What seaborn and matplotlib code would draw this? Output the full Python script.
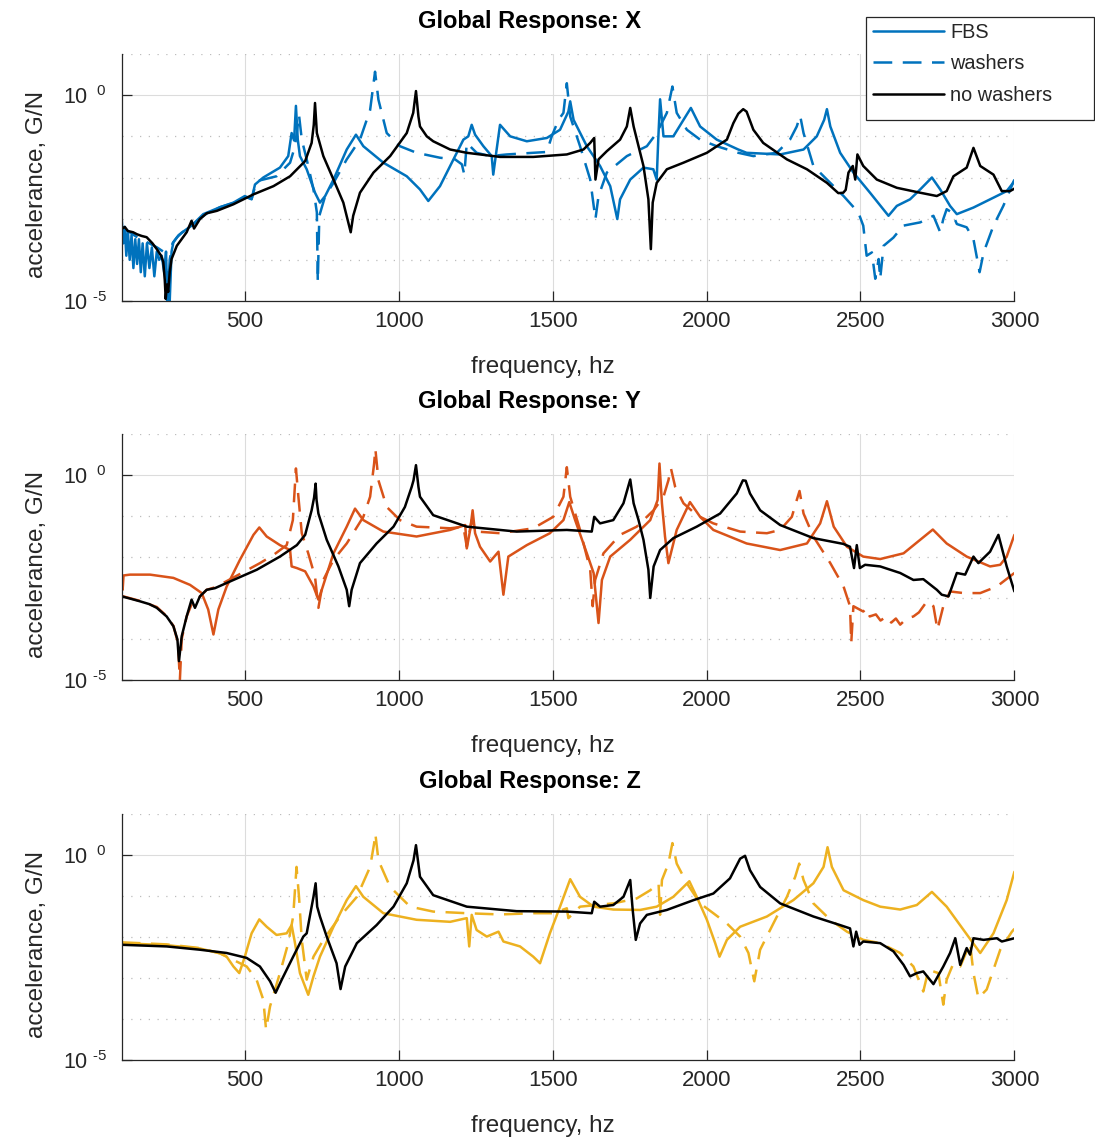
"""
Global response FRFs (X / Y / Z) -- FBS prediction vs. measured with and
without washers. Values are log10(G/N), read off the original figure.
"""

import numpy as np
import pandas as pd
import matplotlib
matplotlib.use("Agg")
import matplotlib.pyplot as plt
import seaborn as sns
from matplotlib.lines import Line2D
from matplotlib.patches import Rectangle
from matplotlib.ticker import FixedLocator, NullFormatter

sns.set_style("white")
plt.rcParams["font.family"] = ["Liberation Sans", "DejaVu Sans"]
plt.rcParams["mathtext.fontset"] = "custom"
plt.rcParams["mathtext.rm"] = "Liberation Sans"

BLUE, ORANGE, YELLOW = "#0072BD", "#D95319", "#EDB120"
INK = "#262626"

# --------------------------------------------------------------------------
# data: (frequency hz, log10 accelerance)
# --------------------------------------------------------------------------
X_FBS = [(100, -3.0), (105, -3.6), (110, -3.2), (115, -3.9), (120, -3.3), (126, -4.0), (132, -3.4),
         (138, -4.2), (144, -3.5), (150, -4.1), (156, -3.5), (162, -4.3), (168, -3.6), (175, -4.4),
         (182, -3.6), (190, -4.2), (198, -3.7), (206, -4.4), (214, -3.8), (222, -4.0), (230, -3.9),
         (238, -4.3), (244, -3.8), (248, -5.0), (252, -4.3), (256, -5.0), (262, -3.8), (268, -3.57),
         (280, -3.45), (295, -3.34), (327, -3.17), (365, -2.89), (420, -2.72), (463, -2.61), (500, -2.45),
         (522, -2.53), (533, -2.17), (560, -2.0), (614, -1.76), (641, -1.48), (652, -0.92), (660, -1.1),
         (666, -0.26), (672, -1.08), (679, -1.48), (701, -1.80), (728, -2.37), (744, -2.61), (761, -2.45),
         (788, -2.05), (831, -1.32), (861, -0.96), (885, -1.24), (950, -1.64), (1026, -1.97), (1069, -2.29),
         (1096, -2.57), (1134, -2.21), (1167, -1.72), (1210, -1.08), (1226, -1.0), (1237, -0.72),
         (1248, -0.96), (1275, -1.24), (1302, -1.48), (1307, -1.93), (1318, -1.32), (1329, -0.72),
         (1362, -1.0), (1416, -1.12), (1481, -1.04), (1524, -0.84), (1551, -0.40), (1557, -0.15),
         (1568, -0.60), (1611, -1.24), (1654, -1.72), (1687, -2.21), (1710, -3.01), (1719, -2.53),
         (1752, -2.05), (1795, -1.76), (1827, -1.80), (1838, -2.05), (1843, -1.08), (1849, -0.10),
         (1860, -1.0), (1892, -1.0), (1925, -0.60), (1949, -0.31), (1979, -0.76), (2033, -1.08),
         (2103, -1.32), (2130, -1.40), (2239, -1.44), (2315, -1.32), (2358, -1.0), (2382, -0.60),
         (2391, -0.34), (2402, -0.76), (2434, -1.40), (2477, -1.88), (2531, -2.37), (2591, -2.93),
         (2618, -2.69), (2661, -2.53), (2694, -2.29), (2732, -2.0), (2759, -2.29), (2791, -2.69),
         (2813, -2.89), (2867, -2.73), (2932, -2.49), (2975, -2.33), (3000, -2.09)]

X_WASHERS = [(100, -3.2), (130, -3.35), (160, -3.5), (190, -3.6), (215, -3.7), (235, -3.8), (245, -4.3),
             (250, -4.9), (256, -4.0), (265, -3.6), (285, -3.4), (330, -3.15), (370, -2.9), (420, -2.72),
             (463, -2.62), (500, -2.47), (522, -2.52), (538, -2.09), (603, -1.97), (647, -1.64),
             (663, -1.24), (676, -0.48), (685, -1.08), (701, -1.56), (723, -2.29), (734, -2.85),
             (737, -4.54), (742, -2.93), (761, -2.45), (788, -2.13), (831, -1.56), (874, -1.08),
             (907, -0.36), (923, 0.57), (934, -0.11), (961, -0.92), (1004, -1.24), (1058, -1.40),
             (1134, -1.52), (1183, -1.56), (1205, -1.68), (1213, -1.93), (1221, -1.16), (1253, -1.40),
             (1297, -1.48), (1351, -1.44), (1437, -1.40), (1481, -1.38), (1497, -1.0), (1519, -0.60),
             (1535, -0.43), (1546, 0.29), (1557, -0.52), (1589, -1.24), (1622, -2.05), (1639, -3.01),
             (1649, -2.45), (1676, -1.88), (1741, -1.48), (1806, -1.24), (1838, -0.92), (1871, -0.43),
             (1889, 0.21), (1903, -0.43), (1936, -0.84), (1979, -1.08), (2033, -1.24), (2103, -1.40),
             (2152, -1.48), (2228, -1.40), (2271, -1.08), (2293, -0.76), (2304, -0.50), (2315, -0.92),
             (2347, -1.72), (2391, -2.05), (2445, -2.45), (2493, -2.85), (2509, -3.17), (2520, -3.90),
             (2537, -3.82), (2548, -4.46), (2559, -3.98), (2564, -4.46), (2575, -3.66), (2607, -3.46),
             (2639, -3.17), (2694, -3.09), (2737, -2.93), (2759, -3.33), (2769, -3.01), (2780, -2.77),
             (2797, -2.85), (2813, -3.13), (2845, -3.21), (2867, -3.50), (2887, -4.30), (2900, -3.82),
             (2932, -3.17), (2964, -2.69), (3000, -2.05)]

X_NO_WASHERS = [(100, -3.25), (110, -3.2), (120, -3.3), (137, -3.33), (150, -3.38), (165, -3.42),
                (181, -3.45), (200, -3.6), (214, -3.74), (228, -3.9), (235, -4.05), (240, -4.5),
                (243, -4.95), (247, -4.6), (251, -4.78), (256, -4.3), (262, -3.98), (279, -3.66),
                (311, -3.33), (327, -3.05), (335, -3.24), (354, -3.01), (376, -2.87), (409, -2.81),
                (463, -2.65), (528, -2.41), (593, -2.21), (647, -1.97), (696, -1.60), (717, -1.16),
                (724, -0.72), (728, -0.19), (734, -0.92), (755, -1.48), (788, -2.05), (820, -2.61),
                (844, -3.33), (852, -2.93), (874, -2.37), (918, -1.88), (972, -1.48), (1026, -0.92),
                (1047, -0.43), (1056, 0.10), (1064, -0.52), (1069, -0.76), (1091, -1.0), (1112, -1.12),
                (1167, -1.32), (1221, -1.40), (1329, -1.50), (1437, -1.50), (1546, -1.44), (1600, -1.32),
                (1622, -1.16), (1635, -1.04), (1639, -2.05), (1649, -1.56), (1676, -1.36), (1719, -1.08),
                (1741, -0.76), (1752, -0.31), (1763, -0.76), (1779, -1.24), (1795, -1.72), (1811, -2.53),
                (1819, -3.74), (1825, -2.61), (1838, -2.13), (1871, -1.80), (1925, -1.64), (2001, -1.40),
                (2066, -1.08), (2087, -0.68), (2103, -0.45), (2119, -0.34), (2130, -0.40), (2152, -0.84),
                (2184, -1.16), (2261, -1.56), (2326, -1.80), (2391, -2.13), (2428, -2.38), (2444, -2.37),
                (2452, -2.30), (2461, -1.88), (2475, -1.72), (2483, -2.05), (2490, -1.44), (2509, -1.72),
                (2553, -2.05), (2618, -2.25), (2694, -2.37), (2748, -2.45), (2780, -2.33), (2802, -1.97),
                (2845, -1.76), (2867, -1.28), (2889, -1.72), (2932, -1.93), (2959, -2.33), (2986, -2.33),
                (3000, -2.27)]

Y_FBS = [(100, -2.43), (103, -2.8), (106, -2.45), (127, -2.43), (192, -2.43), (268, -2.51), (322, -2.68),
         (360, -2.88), (381, -3.28), (398, -3.89), (414, -3.28), (441, -2.72), (484, -2.07), (528, -1.46),
         (547, -1.28), (571, -1.50), (614, -1.71), (647, -1.83), (652, -2.23), (669, -2.27), (696, -2.35),
         (723, -2.72), (739, -3.04), (750, -2.80), (788, -1.91), (831, -1.26), (858, -0.82), (885, -1.10),
         (950, -1.38), (1058, -1.50), (1167, -1.34), (1216, -1.22), (1221, -1.79), (1232, -1.34),
         (1240, -0.86), (1248, -1.42), (1264, -1.75), (1297, -2.11), (1324, -1.87), (1340, -2.92),
         (1356, -1.99), (1416, -1.71), (1491, -1.42), (1535, -1.10), (1554, -0.66), (1573, -1.10),
         (1611, -1.91), (1633, -2.39), (1649, -3.61), (1660, -2.56), (1687, -1.99), (1752, -1.58),
         (1817, -1.10), (1841, -0.61), (1847, 0.28), (1855, -0.69), (1865, -1.50), (1876, -2.15),
         (1903, -1.34), (1946, -0.66), (1979, -1.02), (2022, -1.34), (2130, -1.67), (2239, -1.83),
         (2326, -1.67), (2369, -1.18), (2391, -0.64), (2413, -1.26), (2456, -1.75), (2509, -1.99),
         (2564, -2.05), (2640, -1.91), (2694, -1.58), (2735, -1.33), (2780, -1.67), (2845, -1.99),
         (2921, -2.23), (2954, -2.19), (2975, -1.99), (3000, -1.46)]

Y_WASHERS = [(100, -2.95), (159, -3.07), (214, -3.22), (246, -3.44), (268, -3.68), (283, -4.1), (289, -5.0),
             (295, -4.0), (311, -3.45), (330, -3.1), (354, -2.97), (376, -2.80), (403, -2.74), (463, -2.50),
             (549, -2.15), (593, -1.95), (636, -1.71), (656, -1.10), (666, 0.16), (674, -0.53), (685, -1.42),
             (706, -1.91), (728, -2.48), (739, -3.24), (755, -2.56), (788, -2.07), (831, -1.67), (885, -1.02),
             (907, -0.53), (920, 0.28), (924, 0.64), (934, -0.13), (961, -0.78), (1004, -1.10),
             (1058, -1.26), (1167, -1.30), (1210, -1.26), (1221, -1.75), (1237, -1.10), (1253, -1.38),
             (1329, -1.42), (1437, -1.30), (1502, -1.02), (1535, -0.53), (1546, 0.19), (1557, -0.53),
             (1589, -1.34), (1622, -2.31), (1630, -3.20), (1638, -2.56), (1665, -1.91), (1719, -1.46),
             (1773, -1.26), (1828, -0.86), (1860, -0.53), (1876, -0.13), (1884, 0.17), (1898, -0.29),
             (1925, -0.69), (1968, -0.98), (2022, -1.18), (2109, -1.38), (2196, -1.42), (2239, -1.34),
             (2277, -1.02), (2293, -0.61), (2302, -0.39), (2315, -0.94), (2347, -1.50), (2402, -2.15),
             (2445, -2.72), (2466, -3.20), (2470, -4.09), (2477, -3.20), (2509, -3.33), (2520, -3.25),
             (2530, -3.45), (2550, -3.40), (2565, -3.55), (2585, -3.45), (2600, -3.60), (2615, -3.50),
             (2629, -3.65), (2650, -3.50), (2672, -3.45), (2690, -3.35), (2716, -3.08), (2737, -3.20),
             (2750, -3.77), (2769, -3.20), (2791, -2.84), (2835, -2.88), (2889, -2.88), (2943, -2.72),
             (3000, -2.39)]

Y_NO_WASHERS = [(100, -2.96), (130, -3.02), (159, -3.08), (190, -3.15), (214, -3.24), (246, -3.45),
                (268, -3.69), (281, -4.01), (286, -4.54), (295, -3.93), (311, -3.45), (327, -3.04),
                (338, -3.24), (354, -2.96), (376, -2.80), (403, -2.76), (463, -2.56), (539, -2.31),
                (614, -1.99), (669, -1.71), (696, -1.46), (717, -0.86), (725, -0.55), (730, -0.21),
                (733, -0.61), (739, -0.94), (766, -1.58), (804, -2.23), (831, -2.80), (839, -3.20),
                (847, -2.80), (874, -2.15), (928, -1.67), (983, -1.26), (1020, -0.78), (1042, -0.29),
                (1048, -0.13), (1056, 0.24), (1064, -0.29), (1069, -0.53), (1112, -0.98), (1221, -1.26),
                (1383, -1.38), (1546, -1.34), (1627, -1.38), (1635, -1.02), (1654, -1.18), (1697, -1.10),
                (1730, -0.69), (1752, -0.11), (1763, -0.69), (1779, -1.10), (1795, -1.58), (1811, -2.31),
                (1817, -3.0), (1828, -2.23), (1849, -1.83), (1892, -1.54), (1968, -1.26), (2044, -0.94),
                (2098, -0.45), (2118, -0.13), (2127, -0.14), (2141, -0.45), (2174, -0.86), (2239, -1.22),
                (2347, -1.54), (2444, -1.68), (2466, -1.75), (2479, -2.27), (2488, -1.71), (2498, -2.27),
                (2515, -2.19), (2564, -2.23), (2629, -2.39), (2672, -2.56), (2704, -2.54), (2748, -2.80),
                (2764, -2.92), (2786, -2.96), (2813, -2.39), (2840, -2.43), (2867, -1.99), (2883, -2.15),
                (2921, -1.87), (2948, -1.46), (2975, -2.23), (3000, -2.84)]

Z_FBS = [(100, -2.15), (246, -2.20), (354, -2.28), (420, -2.40), (441, -2.48), (463, -2.72), (482, -2.88),
         (500, -2.48), (522, -1.91), (547, -1.57), (571, -1.75), (603, -1.95), (636, -1.91), (652, -1.71),
         (663, -2.15), (679, -2.88), (706, -3.41), (723, -2.96), (744, -2.48), (788, -1.75), (831, -1.10),
         (861, -0.76), (885, -1.02), (950, -1.42), (1058, -1.58), (1167, -1.63), (1221, -1.54),
         (1229, -2.23), (1237, -1.46), (1253, -1.83), (1286, -1.99), (1324, -1.87), (1340, -2.11),
         (1394, -2.23), (1437, -2.48), (1459, -2.64), (1491, -1.91), (1524, -1.26), (1557, -0.59),
         (1589, -1.02), (1633, -1.26), (1697, -1.33), (1784, -1.34), (1838, -1.26), (1892, -1.02),
         (1944, -0.64), (1968, -1.02), (2001, -1.58), (2028, -2.15), (2042, -2.48), (2066, -2.07),
         (2109, -1.75), (2196, -1.50), (2282, -1.10), (2347, -0.69), (2380, -0.29), (2393, 0.19),
         (2407, -0.29), (2445, -0.86), (2509, -1.10), (2564, -1.26), (2629, -1.33), (2683, -1.22),
         (2732, -0.90), (2780, -1.26), (2835, -1.83), (2889, -2.39), (2932, -1.91), (2975, -1.10),
         (3000, -0.41)]

Z_WASHERS = [(100, -2.13), (246, -2.18), (354, -2.27), (420, -2.40), (463, -2.56), (506, -2.72), (538, -3.04),
             (560, -3.53), (569, -4.26), (582, -3.69), (614, -2.88), (641, -2.15), (657, -1.50), (668, -0.29),
             (676, -1.02), (685, -2.07), (701, -3.04), (723, -2.48), (755, -2.07), (809, -1.50), (864, -1.02),
             (907, -0.29), (920, 0.28), (924, 0.52), (934, -0.13), (972, -0.78), (1037, -1.26), (1112, -1.38),
             (1221, -1.42), (1329, -1.45), (1437, -1.42), (1502, -1.42), (1546, -1.30), (1551, -1.54),
             (1589, -1.26), (1697, -1.18), (1773, -1.06), (1817, -0.86), (1844, -0.69), (1849, -1.46),
             (1855, -0.61), (1876, -0.21), (1889, 0.29), (1903, -0.21), (1936, -0.69), (1979, -1.18),
             (2022, -1.42), (2066, -1.67), (2109, -1.99), (2136, -2.39), (2155, -3.08), (2174, -2.31),
             (2217, -1.67), (2261, -1.02), (2288, -0.53), (2301, -0.21), (2315, -0.61), (2347, -1.18),
             (2402, -1.58), (2456, -1.87), (2509, -2.07), (2564, -2.15), (2629, -2.39), (2672, -2.72),
             (2704, -3.33), (2721, -2.80), (2753, -2.88), (2769, -3.65), (2780, -3.04), (2802, -2.64),
             (2824, -2.72), (2856, -2.15), (2867, -2.88), (2883, -3.49), (2910, -3.28), (2954, -2.31),
             (2992, -1.87), (3000, -1.80)]

Z_NO_WASHERS = [(100, -2.19), (246, -2.23), (354, -2.31), (441, -2.39), (506, -2.51), (549, -2.72),
                (582, -3.08), (600, -3.36), (620, -3.04), (657, -2.48), (690, -1.99), (701, -1.91),
                (717, -1.26), (723, -1.02), (730, -0.69), (735, -1.26), (744, -1.50), (766, -1.99),
                (798, -2.64), (811, -3.27), (826, -2.72), (864, -2.15), (928, -1.71), (983, -1.26),
                (1026, -0.69), (1048, -0.13), (1056, 0.24), (1069, -0.53), (1112, -0.98), (1221, -1.26),
                (1383, -1.37), (1546, -1.38), (1627, -1.42), (1635, -1.14), (1654, -1.26), (1697, -1.22),
                (1730, -1.02), (1752, -0.61), (1760, -1.34), (1770, -2.07), (1784, -1.67), (1806, -1.46),
                (1871, -1.34), (1958, -1.10), (2022, -0.94), (2076, -0.57), (2109, -0.09), (2125, -0.02),
                (2141, -0.37), (2174, -0.78), (2239, -1.18), (2347, -1.50), (2434, -1.71), (2466, -1.79),
                (2477, -2.23), (2486, -1.87), (2497, -2.19), (2509, -2.11), (2564, -2.15), (2607, -2.35),
                (2640, -2.68), (2661, -2.96), (2683, -2.88), (2704, -2.84), (2737, -3.15), (2769, -2.72),
                (2791, -2.39), (2808, -2.03), (2824, -2.68), (2845, -2.27), (2856, -2.43), (2867, -2.03),
                (2900, -2.07), (2943, -2.03), (2959, -2.11), (3000, -2.03)]

AXES = ["X", "Y", "Z"]
COLORS = [BLUE, ORANGE, YELLOW]
FBS = [X_FBS, Y_FBS, Z_FBS]
WASHERS = [X_WASHERS, Y_WASHERS, Z_WASHERS]
NO_WASHERS = [X_NO_WASHERS, Y_NO_WASHERS, Z_NO_WASHERS]
LEGEND_LABELS = ["FBS", "washers", "no washers"]
FREQ_TICKS = [500, 1000, 1500, 2000, 2500, 3000]
DECADE_LABELS = [r"$\mathregular{10^{\ \text{-}5}}$", r"$\mathregular{10^{\ \ 0}}$"]

W, H = 1095, 1139
LW = 1.8
DASH = (7.5, 4.2)


def draw_curve(ax, pts, color, dashed=False):
    df = pd.DataFrame(pts, columns=["hz", "log_g"])
    df["g"] = 10.0 ** df["log_g"]
    sns.lineplot(data=df, x="hz", y="g", ax=ax, color=color, linewidth=LW,
                 estimator=None, sort=False)
    if dashed:
        ax.lines[-1].set_dashes(DASH)


def style_axes(ax, name):
    ax.set_yscale("log")
    ax.set_xlim(100, 3000)
    ax.set_ylim(1e-5, 10)
    ax.set_xticks(FREQ_TICKS)
    ax.set_xticklabels([str(t) for t in FREQ_TICKS])
    ax.set_yticks([1e-5, 1])
    ax.set_yticklabels(DECADE_LABELS)
    ax.yaxis.set_minor_locator(FixedLocator([1e-4, 1e-3, 1e-2, 1e-1, 10]))
    ax.yaxis.set_minor_formatter(NullFormatter())

    ax.grid(True, which="major", color="#dcdcdc", linewidth=0.8, linestyle="-")
    ax.grid(True, which="minor", axis="y", color="#bdbdbd", linewidth=0.9, linestyle=(0, (1, 6)))
    ax.set_axisbelow(True)

    for side in ["top", "right"]:
        ax.spines[side].set_visible(False)
    for side in ["left", "bottom"]:
        ax.spines[side].set_color(INK)
        ax.spines[side].set_linewidth(0.9)

    ax.tick_params(which="major", direction="in", length=7, width=0.9, color=INK,
                   labelsize=16, labelcolor=INK, bottom=True, left=True, top=False, right=False)
    ax.tick_params(axis="x", pad=7)
    ax.tick_params(axis="y", pad=11, labelsize=15.5)
    ax.tick_params(which="minor", length=0)

    ax.set_xlabel("frequency, hz", fontsize=17.5, color=INK)
    ax.set_ylabel("accelerance, G/N", fontsize=17.5, color=INK)
    ax.xaxis.set_label_coords(0.472, -0.222)
    ax.yaxis.set_label_coords(-0.083, 0.47)
    ax.text(0.457, 1.105, f"Global Response: {name}", transform=ax.transAxes,
            ha="center", va="baseline", fontsize=17, fontweight="bold", color="black")


fig = plt.figure(figsize=(W / 100, H / 100), dpi=100)

# axes boxes in pixels: (left, top, right, bottom)
boxes = [(121.7, 54, 1014.4, 301), (121.7, 434, 1014.4, 680), (121.7, 814, 1014.4, 1060)]

for i, name in enumerate(AXES):
    l, t, r, b = boxes[i]
    ax = fig.add_axes([l / W, 1 - b / H, (r - l) / W, (b - t) / H])
    draw_curve(ax, FBS[i], COLORS[i])
    draw_curve(ax, WASHERS[i], COLORS[i], dashed=True)
    draw_curve(ax, NO_WASHERS[i], "black")
    style_axes(ax, name)

# legend box sits on top of the first panel
fig.add_artist(Rectangle((866 / W, 1 - 120 / H), 228 / W, 103 / H, transform=fig.transFigure,
                         facecolor="white", edgecolor=INK, linewidth=0.9, zorder=3))
handles = [Line2D([], [], color=BLUE, linewidth=LW),
           Line2D([], [], color=BLUE, linewidth=LW, dashes=DASH),
           Line2D([], [], color="black", linewidth=LW)]
fig.legend(handles, LEGEND_LABELS, loc="upper left", bbox_to_anchor=(873 / W, 1 - 23 / H),
           frameon=False, fontsize=14.3, handlelength=3.6, handletextpad=0.3,
           labelspacing=0.62, borderpad=0, borderaxespad=0).set_zorder(4)

fig.savefig("out.png", dpi=100)
